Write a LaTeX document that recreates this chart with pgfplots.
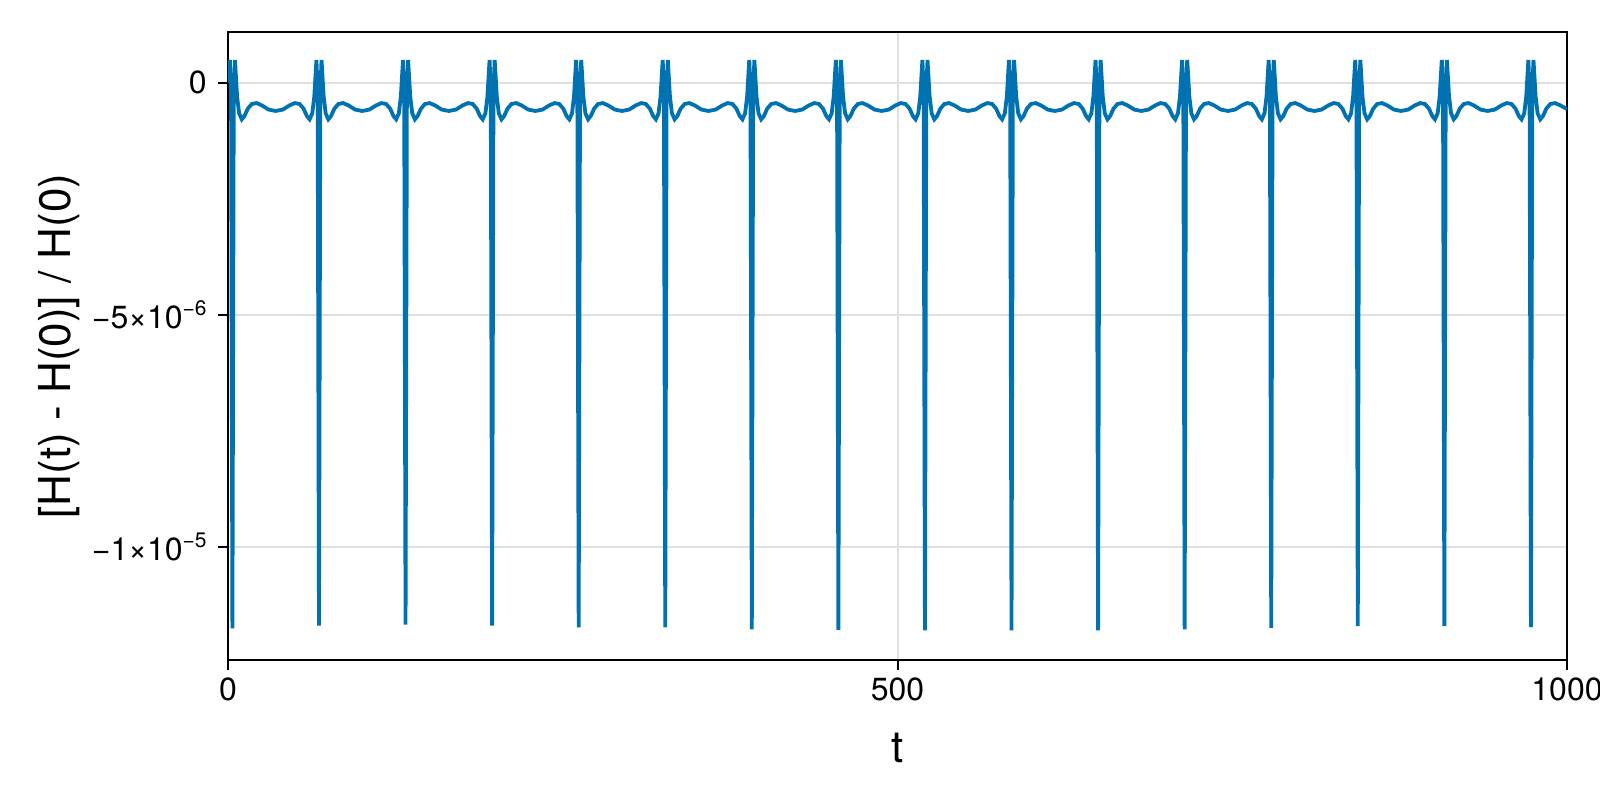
\documentclass[border=0pt]{standalone}
\usepackage{pgfplots}
\pgfplotsset{compat=1.18}
\usepackage{fontspec}
\setmainfont{TeX Gyre Heros}
\definecolor{wong1}{RGB}{0,114,178}
\newcommand{\sexp}[1]{\raisebox{6.2pt}{\fontsize{10.5}{12}\selectfont #1}}
\begin{document}
\begin{tikzpicture}
\begin{axis}[
  scale only axis,
  width=669.5pt, height=314pt,
  xmin=0, xmax=1000, ymin=-12.43, ymax=1.09,
  xtick={0,500,1000}, xticklabels={0,500,1000},
  ytick={-10,-5,0}, yticklabels={{−1×10\sexp{−5}},{−5×10\sexp{−6}},{0}},
  scaled ticks=false,
  xtick pos=bottom, ytick pos=left,
  tick align=outside, major tick length=5pt,
  tick style={line width=1pt, black},
  axis line style={line width=1.2pt},
  grid=major,
  major grid style={line width=1pt, color=black!12},
  tick label style={font=\fontsize{16}{19}\selectfont},
  xticklabel style={yshift=-0.5pt},
  yticklabel style={inner xsep=0pt, xshift=-5.5pt},
  xlabel={t}, ylabel={[H(t) - H(0)] / H(0)},
  xlabel style={font=\fontsize{22}{26}\selectfont, at={(axis description cs:0.5,-0.1401)}, anchor=center},
  ylabel style={font=\fontsize{22}{26}\selectfont, at={(axis description cs:-0.1262,0.5)}, anchor=center},
]
\addplot[color=wong1, line width=1.9pt] coordinates {
(0,0) (1.4,0.49) (2.3,-0.20) (3.3,-11.75) (4.3,-0.20) (5.2,0.49) (5.9,0.15) (6.8,-0.30) (8.3,-0.66) (10.3,-0.79) (12.3,-0.72) (14.8,-0.56) (17.8,-0.46) (21.3,-0.44) (25.3,-0.49) (30.3,-0.58) (35.6,-0.61)
(40.95,-0.58) (45.95,-0.49) (49.95,-0.44) (53.45,-0.46) (56.45,-0.56) (58.95,-0.72) (60.95,-0.79) (62.95,-0.66) (64.45,-0.30) (65.35,0.15) (66.05,0.49) (66.95,-0.20) (67.95,-11.69) (68.95,-0.20) (69.85,0.49) (70.55,0.15) (71.45,-0.30) (72.95,-0.66) (74.95,-0.79) (76.95,-0.72) (79.45,-0.56) (82.45,-0.46) (85.95,-0.44) (89.95,-0.49) (94.95,-0.58) (100.25,-0.61)
(105.6,-0.58) (110.6,-0.49) (114.6,-0.44) (118.1,-0.46) (121.1,-0.56) (123.6,-0.72) (125.6,-0.79) (127.6,-0.66) (129.1,-0.30) (130.0,0.15) (130.7,0.49) (131.6,-0.20) (132.6,-11.67) (133.6,-0.20) (134.5,0.49) (135.2,0.15) (136.1,-0.30) (137.6,-0.66) (139.6,-0.79) (141.6,-0.72) (144.1,-0.56) (147.1,-0.46) (150.6,-0.44) (154.6,-0.49) (159.6,-0.58) (164.9,-0.61)
(170.25,-0.58) (175.25,-0.49) (179.25,-0.44) (182.75,-0.46) (185.75,-0.56) (188.25,-0.72) (190.25,-0.79) (192.25,-0.66) (193.75,-0.30) (194.65,0.15) (195.35,0.49) (196.25,-0.20) (197.25,-11.69) (198.25,-0.20) (199.15,0.49) (199.85,0.15) (200.75,-0.30) (202.25,-0.66) (204.25,-0.79) (206.25,-0.72) (208.75,-0.56) (211.75,-0.46) (215.25,-0.44) (219.25,-0.49) (224.25,-0.58) (229.55,-0.61)
(234.9,-0.58) (239.9,-0.49) (243.9,-0.44) (247.4,-0.46) (250.4,-0.56) (252.9,-0.72) (254.9,-0.79) (256.9,-0.66) (258.4,-0.30) (259.3,0.15) (260.0,0.49) (260.9,-0.20) (261.9,-11.73) (262.9,-0.20) (263.8,0.49) (264.5,0.15) (265.4,-0.30) (266.9,-0.66) (268.9,-0.79) (270.9,-0.72) (273.4,-0.56) (276.4,-0.46) (279.9,-0.44) (283.9,-0.49) (288.9,-0.58) (294.2,-0.61)
(299.55,-0.58) (304.55,-0.49) (308.55,-0.44) (312.05,-0.46) (315.05,-0.56) (317.55,-0.72) (319.55,-0.79) (321.55,-0.66) (323.05,-0.30) (323.95,0.15) (324.65,0.49) (325.55,-0.20) (326.55,-11.73) (327.55,-0.20) (328.45,0.49) (329.15,0.15) (330.05,-0.30) (331.55,-0.66) (333.55,-0.79) (335.55,-0.72) (338.05,-0.56) (341.05,-0.46) (344.55,-0.44) (348.55,-0.49) (353.55,-0.58) (358.85,-0.61)
(364.2,-0.58) (369.2,-0.49) (373.2,-0.44) (376.7,-0.46) (379.7,-0.56) (382.2,-0.72) (384.2,-0.79) (386.2,-0.66) (387.7,-0.30) (388.6,0.15) (389.3,0.49) (390.2,-0.20) (391.2,-11.77) (392.2,-0.20) (393.1,0.49) (393.8,0.15) (394.7,-0.30) (396.2,-0.66) (398.2,-0.79) (400.2,-0.72) (402.7,-0.56) (405.7,-0.46) (409.2,-0.44) (413.2,-0.49) (418.2,-0.58) (423.5,-0.61)
(428.85,-0.58) (433.85,-0.49) (437.85,-0.44) (441.35,-0.46) (444.35,-0.56) (446.85,-0.72) (448.85,-0.79) (450.85,-0.66) (452.35,-0.30) (453.25,0.15) (453.95,0.49) (454.85,-0.20) (455.85,-11.78) (456.85,-0.20) (457.75,0.49) (458.45,0.15) (459.35,-0.30) (460.85,-0.66) (462.85,-0.79) (464.85,-0.72) (467.35,-0.56) (470.35,-0.46) (473.85,-0.44) (477.85,-0.49) (482.85,-0.58) (488.15,-0.61)
(493.5,-0.58) (498.5,-0.49) (502.5,-0.44) (506.0,-0.46) (509.0,-0.56) (511.5,-0.72) (513.5,-0.79) (515.5,-0.66) (517.0,-0.30) (517.9,0.15) (518.6,0.49) (519.5,-0.20) (520.5,-11.79) (521.5,-0.20) (522.4,0.49) (523.1,0.15) (524.0,-0.30) (525.5,-0.66) (527.5,-0.79) (529.5,-0.72) (532.0,-0.56) (535.0,-0.46) (538.5,-0.44) (542.5,-0.49) (547.5,-0.58) (552.8,-0.61)
(558.15,-0.58) (563.15,-0.49) (567.15,-0.44) (570.65,-0.46) (573.65,-0.56) (576.15,-0.72) (578.15,-0.79) (580.15,-0.66) (581.65,-0.30) (582.55,0.15) (583.25,0.49) (584.15,-0.20) (585.15,-11.79) (586.15,-0.20) (587.05,0.49) (587.75,0.15) (588.65,-0.30) (590.15,-0.66) (592.15,-0.79) (594.15,-0.72) (596.65,-0.56) (599.65,-0.46) (603.15,-0.44) (607.15,-0.49) (612.15,-0.58) (617.45,-0.61)
(622.8,-0.58) (627.8,-0.49) (631.8,-0.44) (635.3,-0.46) (638.3,-0.56) (640.8,-0.72) (642.8,-0.79) (644.8,-0.66) (646.3,-0.30) (647.2,0.15) (647.9,0.49) (648.8,-0.20) (649.8,-11.79) (650.8,-0.20) (651.7,0.49) (652.4,0.15) (653.3,-0.30) (654.8,-0.66) (656.8,-0.79) (658.8,-0.72) (661.3,-0.56) (664.3,-0.46) (667.8,-0.44) (671.8,-0.49) (676.8,-0.58) (682.1,-0.61)
(687.45,-0.58) (692.45,-0.49) (696.45,-0.44) (699.95,-0.46) (702.95,-0.56) (705.45,-0.72) (707.45,-0.79) (709.45,-0.66) (710.95,-0.30) (711.85,0.15) (712.55,0.49) (713.45,-0.20) (714.45,-11.77) (715.45,-0.20) (716.35,0.49) (717.05,0.15) (717.95,-0.30) (719.45,-0.66) (721.45,-0.79) (723.45,-0.72) (725.95,-0.56) (728.95,-0.46) (732.45,-0.44) (736.45,-0.49) (741.45,-0.58) (746.75,-0.61)
(752.1,-0.58) (757.1,-0.49) (761.1,-0.44) (764.6,-0.46) (767.6,-0.56) (770.1,-0.72) (772.1,-0.79) (774.1,-0.66) (775.6,-0.30) (776.5,0.15) (777.2,0.49) (778.1,-0.20) (779.1,-11.74) (780.1,-0.20) (781.0,0.49) (781.7,0.15) (782.6,-0.30) (784.1,-0.66) (786.1,-0.79) (788.1,-0.72) (790.6,-0.56) (793.6,-0.46) (797.1,-0.44) (801.1,-0.49) (806.1,-0.58) (811.4,-0.61)
(816.75,-0.58) (821.75,-0.49) (825.75,-0.44) (829.25,-0.46) (832.25,-0.56) (834.75,-0.72) (836.75,-0.79) (838.75,-0.66) (840.25,-0.30) (841.15,0.15) (841.85,0.49) (842.75,-0.20) (843.75,-11.70) (844.75,-0.20) (845.65,0.49) (846.35,0.15) (847.25,-0.30) (848.75,-0.66) (850.75,-0.79) (852.75,-0.72) (855.25,-0.56) (858.25,-0.46) (861.75,-0.44) (865.75,-0.49) (870.75,-0.58) (876.05,-0.61)
(881.4,-0.58) (886.4,-0.49) (890.4,-0.44) (893.9,-0.46) (896.9,-0.56) (899.4,-0.72) (901.4,-0.79) (903.4,-0.66) (904.9,-0.30) (905.8,0.15) (906.5,0.49) (907.4,-0.20) (908.4,-11.70) (909.4,-0.20) (910.3,0.49) (911.0,0.15) (911.9,-0.30) (913.4,-0.66) (915.4,-0.79) (917.4,-0.72) (919.9,-0.56) (922.9,-0.46) (926.4,-0.44) (930.4,-0.49) (935.4,-0.58) (940.7,-0.61)
(946.05,-0.58) (951.05,-0.49) (955.05,-0.44) (958.55,-0.46) (961.55,-0.56) (964.05,-0.72) (966.05,-0.79) (968.05,-0.66) (969.55,-0.30) (970.45,0.15) (971.15,0.49) (972.05,-0.20) (973.05,-11.72) (974.05,-0.20) (974.95,0.49) (975.65,0.15) (976.55,-0.30) (978.05,-0.66) (980.05,-0.79) (982.05,-0.72) (984.55,-0.56) (987.55,-0.46) (991.05,-0.44) (995.05,-0.49) (1000,-0.57)
};
\end{axis}
\pgfresetboundingbox
\path[use as bounding box] ([shift={(-114pt,-70pt)}]current axis.south west) rectangle ([shift={(686pt,330pt)}]current axis.south west);
\end{tikzpicture}
\end{document}
